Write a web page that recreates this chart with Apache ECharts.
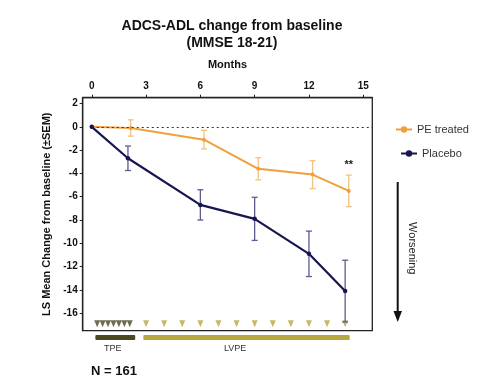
<!DOCTYPE html>
<html><head><meta charset="utf-8">
<script src="https://cdn.jsdelivr.net/npm/echarts@6/dist/echarts.min.js"></script>
<style>html,body{margin:0;padding:0;background:#fff}#c{width:484px;height:384px}</style>
</head><body><div id="c"></div>
<script>
// ---- data ----
const monthTicks = [0, 3, 6, 9, 12, 15];
const yTicks = [2, 0, -2, -4, -6, -8, -10, -12, -14, -16];
const peMonths = [0, 2.15, 6.2, 9.2, 12.2, 14.2];
const peMean = [0, -0.1, -1.1, -3.6, -4.1, -5.5];
const peSem = [0, 0.7, 0.8, 0.95, 1.2, 1.35];
const plMonths = [0, 2, 6, 9, 12, 14];
const plMean = [0, -2.7, -6.7, -7.9, -10.9, -14.1];
const plSem = [0, 1.05, 1.3, 1.85, 1.95, 2.65];
const tpeSessions = [0.3, 0.6, 0.9, 1.2, 1.5, 1.8, 2.1];
const lvpeSessions = [3, 4, 5, 6, 7, 8, 9, 10, 11, 12, 13, 14];
const phaseNames = ['TPE', 'LVPE'];
const phaseStart = [0.2, 2.85];
const phaseEnd = [2.4, 14.25];
const sessionLevel = -16.9;
const sigMonth = 14.2, sigLevel = -3.3, sigText = '**';

// ---- style ----
const FONT = '"Liberation Sans", Arial, sans-serif';
const ORANGE = '#f0a03c', ORANGE_ERR = '#f3c282';
const NAVY = '#161650', NAVY_ERR = '#5c5c92';
const DARK_OLIVE = '#4b4720', LIGHT_OLIVE = '#b7a73e';

function errData(xs, m, s) {
  const out = [];
  for (let i = 0; i < xs.length; i++) if (s[i] > 0) out.push([xs[i], m[i] - s[i], m[i] + s[i]]);
  return out;
}
function errRender(color) {
  return function (params, api) {
    const x = api.value(0), lo = api.value(1), hi = api.value(2);
    const p1 = api.coord([x, hi]), p2 = api.coord([x, lo]);
    const w = 3, st = { stroke: color, lineWidth: 1.3 };
    return { type: 'group', children: [
      { type: 'line', shape: { x1: p1[0], y1: p1[1], x2: p2[0], y2: p2[1] }, style: st },
      { type: 'line', shape: { x1: p1[0] - w, y1: p1[1], x2: p1[0] + w, y2: p1[1] }, style: st },
      { type: 'line', shape: { x1: p2[0] - w, y1: p2[1], x2: p2[0] + w, y2: p2[1] }, style: st }
    ]};
  };
}

const chart = echarts.init(document.getElementById('c'), null, { renderer: 'canvas' });
chart.setOption({
  backgroundColor: '#fff',
  animation: false,
  textStyle: { fontFamily: FONT },
  title: {
    text: 'ADCS-ADL change from baseline\n(MMSE 18-21)',
    left: 227, textAlign: 'center', top: 13,
    textStyle: { fontFamily: FONT, fontSize: 14, fontWeight: 'bold', color: '#111', lineHeight: 17 }
  },
  legend: [
    { data: ['PE treated'], left: 390, top: 119, orient: 'vertical', itemWidth: 16, itemHeight: 8, itemGap: 4,
      textStyle: { fontFamily: FONT, fontSize: 11, color: '#333' } },
    { data: ['Placebo'], left: 395, top: 143, orient: 'vertical', itemWidth: 16, itemHeight: 8, itemGap: 4,
      textStyle: { fontFamily: FONT, fontSize: 11, color: '#333' } }
  ],
  grid: [
    { left: 82.7, top: 97.7, width: 289.6, height: 233, show: true, borderColor: '#222', borderWidth: 1.3, containLabel: false },
    { left: 82.7, top: 335, width: 289.6, height: 5, show: false }
  ],
  xAxis: [
    { type: 'value', gridIndex: 0, position: 'top', min: -0.5, max: 15.5,
      name: 'Months', nameLocation: 'middle', nameGap: 27,
      nameTextStyle: { fontFamily: FONT, fontSize: 11, fontWeight: 'bold', color: '#111' },
      axisLine: { show: true, onZero: false, lineStyle: { color: '#222', width: 1.3 } },
      axisTick: { show: true, inside: false, length: 3, customValues: monthTicks, lineStyle: { color: '#222' } },
      axisLabel: { show: true, customValues: monthTicks, margin: 6, fontFamily: FONT, fontSize: 10, fontWeight: 'bold', color: '#111' },
      splitLine: { show: false } },
    { type: 'value', gridIndex: 1, min: -0.5, max: 15.5, show: false }
  ],
  yAxis: [
    { type: 'value', gridIndex: 0, min: -17.5, max: 2.5,
      name: 'LS Mean Change from baseline (\u00b1SEM)', nameLocation: 'middle', nameGap: 30,
      nameTextStyle: { fontFamily: FONT, fontSize: 11, fontWeight: 'bold', color: '#111' },
      axisLine: { show: true, onZero: false, lineStyle: { color: '#222', width: 1.3 } },
      axisTick: { show: true, inside: false, length: 3, customValues: yTicks, lineStyle: { color: '#222' } },
      axisLabel: { show: true, customValues: yTicks, margin: 5, fontFamily: FONT, fontSize: 10, fontWeight: 'bold', color: '#111' },
      splitLine: { show: false } },
    { type: 'value', gridIndex: 1, min: 0, max: 1, show: false }
  ],
  series: [
    { name: 'PE treated', type: 'line', xAxisIndex: 0, yAxisIndex: 0, z: 4,
      data: peMonths.map((m, i) => [m, peMean[i]]),
      symbol: 'circle', symbolSize: 4, itemStyle: { color: ORANGE }, lineStyle: { color: ORANGE, width: 2 },
      markLine: { silent: true, symbol: 'none', label: { show: false },
        lineStyle: { color: '#333', type: [2, 3], width: 1.2 },
        data: [[{ coord: [0, 0] }, { coord: [15.5, 0] }]] },
      markPoint: { symbol: 'circle', symbolSize: 0,
        label: { show: true, formatter: sigText, fontFamily: FONT, fontSize: 11, fontWeight: 'bold', color: '#222' },
        data: [{ coord: [sigMonth, sigLevel] }] } },
    { name: 'Placebo', type: 'line', xAxisIndex: 0, yAxisIndex: 0, z: 5,
      data: plMonths.map((m, i) => [m, plMean[i]]),
      symbol: 'circle', symbolSize: 4.5, itemStyle: { color: NAVY }, lineStyle: { color: NAVY, width: 2.2 } },
    { type: 'custom', xAxisIndex: 0, yAxisIndex: 0, z: 3, renderItem: errRender(ORANGE_ERR),
      data: errData(peMonths, peMean, peSem) },
    { type: 'custom', xAxisIndex: 0, yAxisIndex: 0, z: 3, renderItem: errRender(NAVY_ERR),
      data: errData(plMonths, plMean, plSem) },
    { type: 'scatter', xAxisIndex: 0, yAxisIndex: 0, z: 2, symbol: 'triangle', symbolRotate: 180, symbolSize: [6, 7],
      itemStyle: { color: DARK_OLIVE }, data: tpeSessions.map(m => [m, sessionLevel]) },
    { type: 'scatter', xAxisIndex: 0, yAxisIndex: 0, z: 2, symbol: 'triangle', symbolRotate: 180, symbolSize: [6, 7],
      itemStyle: { color: LIGHT_OLIVE }, data: lvpeSessions.map(m => [m, sessionLevel]) },
    { type: 'custom', xAxisIndex: 1, yAxisIndex: 1, clip: false,
      data: phaseNames.map((n, i) => [phaseStart[i], phaseEnd[i], i]),
      renderItem: function (params, api) {
        const a = api.coord([api.value(0), 1]), b = api.coord([api.value(1), 0]);
        const idx = api.value(2);
        return { type: 'group', children: [
          { type: 'rect', shape: { x: a[0], y: a[1], width: b[0] - a[0], height: b[1] - a[1], r: 1 },
            style: { fill: idx === 0 ? DARK_OLIVE : LIGHT_OLIVE } }
        ]};
      } }
  ],
  graphic: [
    { type: 'text', left: 113 - 9, top: 344, style: { text: 'TPE', font: '9px ' + FONT, fill: '#333' } },
    { type: 'text', left: 236 - 12, top: 344, style: { text: 'LVPE', font: '9px ' + FONT, fill: '#333' } },
    { type: 'text', left: 91, top: 365, style: { text: 'N = 161', font: 'bold 13px ' + FONT, fill: '#111' } },
    { type: 'line', shape: { x1: 397.7, y1: 182, x2: 397.7, y2: 313 }, style: { stroke: '#111', lineWidth: 2 } },
    { type: 'polygon', shape: { points: [[393.5, 311], [402, 311], [397.7, 322]] }, style: { fill: '#111' } },
    { type: 'text', x: 411.7, y: 248.3, rotation: -Math.PI / 2,
      style: { text: 'Worsening', font: '11px ' + FONT, fill: '#222', align: 'center', verticalAlign: 'middle' } }
  ]
});
</script></body></html>
